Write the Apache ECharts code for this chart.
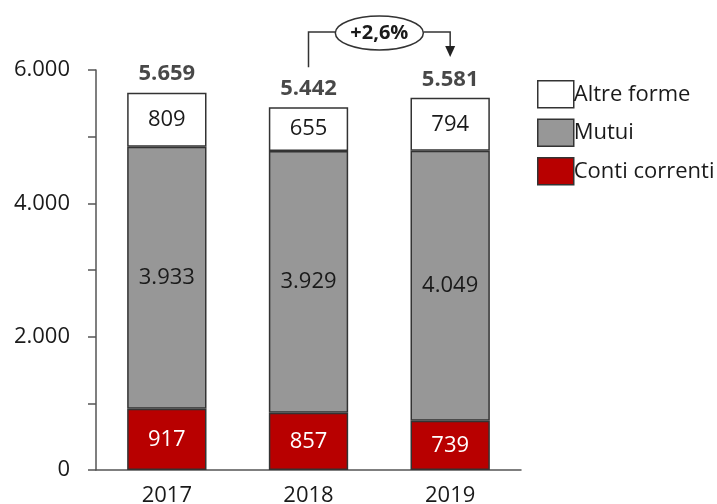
<!DOCTYPE html>
<html>
<head>
<meta charset="utf-8">
<script src="https://cdn.jsdelivr.net/npm/echarts@6/dist/echarts.min.js"></script>
<style>
  html, body { margin: 0; padding: 0; background: #fff; }
  #chart { width: 717px; height: 504px; }
</style>
</head>
<body>
<div id="chart"></div>
<script>
// Stacked composition by year (values in units shown on the axis)
const years = ['2017', '2018', '2019'];
const contiCorrenti = [917, 857, 739];
const mutui = [3933, 3929, 4049];
const altreForme = [809, 655, 794];
const totals = [5659, 5442, 5581];
const yTickLabels = { 0: '0', 2000: '2.000', 4000: '4.000', 6000: '6.000' };
const growthLabel = '+2,6%';

const FONT = '"Open Sans", Lato, sans-serif';
const TEXT = '#1a1a1a';
const EDGE = '#333333';
const FS = 22;

function fmt(v) {
  return String(v).replace(/\B(?=(\d{3})+(?!\d))/g, '.');
}

const chart = echarts.init(document.getElementById('chart'));

function segment(name, data, color, labelColor) {
  return {
    name: name,
    type: 'bar',
    stack: 'tot',
    data: data,
    barWidth: '56%',
    itemStyle: { color: color, borderColor: EDGE, borderWidth: 1.5 },
    label: {
      show: true,
      position: 'inside',
      formatter: p => fmt(p.value),
      color: labelColor,
      fontFamily: FONT,
      fontSize: FS
    },
    emphasis: { disabled: true }
  };
}

chart.setOption({
  animation: false,
  textStyle: { fontFamily: FONT },
  grid: { left: 96, right: 196, top: 70, bottom: 34, containLabel: false, outerBoundsMode: 'none' },
  legend: {
    orient: 'vertical',
    left: 532,
    top: 75,
    icon: 'rect',
    itemWidth: 36,
    itemHeight: 27,
    itemGap: 10,
    data: ['Altre forme', 'Mutui', 'Conti correnti'],
    textStyle: { fontFamily: FONT, fontSize: FS, color: TEXT, padding: [0, 0, 0, -5] },
    itemStyle: { borderColor: EDGE, borderWidth: 1.5 }
  },
  xAxis: {
    type: 'category',
    data: years,
    axisLine: { show: true, lineStyle: { color: '#555', width: 1.5 } },
    axisTick: { show: false },
    axisLabel: { color: TEXT, fontSize: FS, fontFamily: FONT, margin: 15 }
  },
  yAxis: {
    type: 'value',
    min: 0,
    max: 6000,
    interval: 1000,
    splitLine: { show: false },
    axisLine: { show: true, lineStyle: { color: '#555', width: 1.5 } },
    axisTick: { show: true, length: 8, lineStyle: { color: '#555', width: 1.5 } },
    axisLabel: {
      color: TEXT,
      fontSize: FS,
      fontFamily: FONT,
      margin: 26,
      formatter: v => (yTickLabels[v] !== undefined ? yTickLabels[v] : '')
    }
  },
  series: [
    segment('Conti correnti', contiCorrenti, '#b80000', '#ffffff'),
    segment('Mutui', mutui, '#979797', TEXT),
    segment('Altre forme', altreForme, '#ffffff', TEXT),
    {
      name: 'Totale',
      type: 'scatter',
      data: totals,
      symbolSize: 1,
      itemStyle: { color: 'rgba(0,0,0,0)' },
      label: {
        show: true,
        position: 'top',
        distance: 7,
        formatter: p => fmt(p.value),
        color: TEXT,
        fontFamily: FONT,
        fontSize: FS,
        fontWeight: 'bold'
      },
      emphasis: { disabled: true },
      z: 5
    }
  ]
});

// Growth callout between the 2018 and 2019 totals
function drawCallout() {
  const a = chart.convertToPixel({ seriesIndex: 3 }, [1, totals[1]]);
  const b = chart.convertToPixel({ seriesIndex: 3 }, [2, totals[2]]);
  const yLine = 32;
  const leftStart = a[1] - 40;
  const arrowTip = b[1] - 41;
  const cx = (a[0] + b[0]) / 2;
  const rx = 44, ry = 17;
  chart.setOption({
    graphic: [
      {
        type: 'polyline',
        shape: { points: [[a[0], leftStart], [a[0], yLine], [cx - rx, yLine]] },
        style: { stroke: '#333', lineWidth: 1.5, fill: null }
      },
      {
        type: 'polyline',
        shape: { points: [[cx + rx, yLine], [b[0], yLine], [b[0], arrowTip - 10]] },
        style: { stroke: '#333', lineWidth: 1.5, fill: null }
      },
      {
        type: 'polygon',
        shape: { points: [[b[0] - 5, arrowTip - 11], [b[0] + 5, arrowTip - 11], [b[0], arrowTip]] },
        style: { fill: '#222' }
      },
      {
        type: 'ellipse',
        shape: { cx: cx, cy: yLine + 1, rx: rx, ry: ry },
        style: { fill: '#fff', stroke: '#333', lineWidth: 1.5 }
      },
      {
        type: 'text',
        x: cx,
        y: yLine + 1,
        style: {
          text: growthLabel,
          align: 'center',
          verticalAlign: 'middle',
          fontFamily: FONT,
          fontSize: FS - 2,
          fontWeight: 'bold',
          fill: TEXT
        }
      }
    ]
  });
}
drawCallout();
</script>
</body>
</html>
